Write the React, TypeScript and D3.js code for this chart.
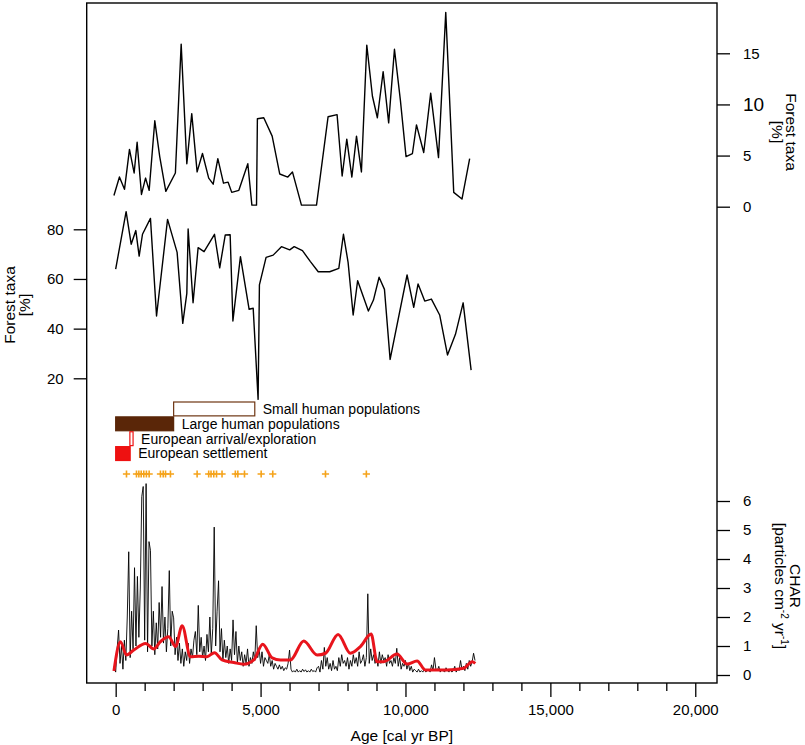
import React, { useEffect, useRef } from "react";
import * as d3 from "d3";

// upper forest taxa record (right axis, %)
const upperAge = [-60, 130, 304, 476, 637, 740, 890, 1030, 1155, 1350, 1520, 1730, 2060, 2260, 2455, 2625, 2810, 2995, 3210, 3365, 3525, 3720, 3880, 4005, 4250, 4560, 4700, 4860, 4890, 5110, 5400, 5660, 5940, 6100, 6410, 6930, 7330, 7640, 7815, 7975, 8150, 8310, 8480, 8665, 8860, 9030, 9230, 9420, 9620, 9825, 10020, 10240, 10380, 10630, 10870, 11140, 11390, 11665, 11950, 12215];
const upperPct = [1.1, 2.9, 1.7, 5.6, 3.3, 6.3, 1.2, 2.8, 1.6, 8.4, 4.9, 1.5, 3.3, 15.9, 4.2, 9.1, 3.4, 5.2, 2.8, 2.2, 4.7, 2.3, 2.4, 1.4, 1.6, 4.2, 0.15, 0.15, 8.6, 8.7, 6.9, 3.2, 2.9, 3.4, 0.15, 0.15, 8.8, 9.0, 3.0, 6.6, 2.9, 6.9, 3.4, 15.8, 10.8, 8.7, 13.2, 8.2, 15.4, 10.4, 4.9, 5.2, 8.0, 5.3, 11.1, 4.8, 19.0, 1.4, 0.75, 4.7];

// lower forest taxa record (left axis, %)
const lowerAge = [0, 360, 535, 695, 810, 925, 1200, 1410, 1790, 2120, 2315, 2455, 2500, 2670, 2845, 3050, 3410, 3590, 3780, 3950, 4045, 4305, 4605, 4745, 4915, 4960, 5190, 5435, 5720, 6005, 6160, 6445, 6720, 6990, 7385, 7700, 7860, 8020, 8195, 8350, 8720, 8895, 9090, 9275, 9470, 10055, 10285, 10435, 10665, 10895, 11180, 11450, 11725, 11990, 12265];
const lowerPct = [64.0, 87.1, 74, 79.5, 69.2, 78, 84.4, 45.1, 84, 70.7, 42.1, 54.2, 80.1, 50.4, 72.6, 71, 78, 64.5, 77.7, 77.8, 43.1, 69, 47.8, 48.2, 11.5, 57.6, 68.7, 69.6, 73, 71.7, 73, 71.4, 67, 62.9, 62.9, 64.3, 78, 66.7, 45.5, 59.3, 47.1, 51.5, 60.7, 55.8, 27.6, 61.6, 48.6, 58, 51.1, 51.9, 45.5, 29.4, 37.7, 50.4, 23.3];

// charcoal accumulation rate, resampled every 50 yr starting at -50 cal yr BP
const charStart = -50;
const charStep = 50;
const charValues = [
  0.3, 0.1, 0.9, 1.55, 0.4, 1.0, 0.2, 1.2, 0.5, 2.0, 4.25, 0.6, 2.2, 0.9, 3.7, 1.0, 3.4, 1.3, 3.0, 6.15, 6.5,
  1.2, 6.6, 0.8, 4.6, 4.3, 1.0, 2.2, 0.7, 1.8, 0.9, 2.5, 1.3, 3.05, 1.1, 2.0, 0.8, 1.6, 3.6, 1.0, 2.2,
  1.97, 0.7, 1.3, 0.5, 1.1, 0.4, 0.9, 0.3, 0.8, 0.5, 1.1, 0.4, 0.9, 0.6, 1.2, 1.5, 0.7, 2.4, 0.8, 1.3,
  0.6, 1.0, 0.5, 1.4, 0.8, 2.0, 0.7, 1.6, 5.1, 1.0, 2.2, 3.25, 0.8, 1.6, 0.5, 1.2, 0.6, 1.0, 0.4, 0.9,
  0.5, 1.9, 0.7, 1.5, 0.4, 1.0, 0.5, 0.8, 0.3, 0.7, 0.4, 0.9, 0.3, 0.6, 0.4, 0.8, 0.5, 1.7, 0.6, 0.9,
  0.4, 0.8, 0.3, 0.6, 0.5, 0.4, 0.7, 0.3, 0.5, 0.2, 0.4, 0.3, 0.2, 0.35, 0.2, 0.3, 0.15, 0.25, 0.2, 0.4,
  0.86, 0.2, 0.1, 0.15, 0.1, 0.2, 0.1, 0.15, 0.1, 0.2, 0.12, 0.18, 0.1, 0.15, 0.1, 0.2, 0.12, 0.15, 0.1, 0.25,
  0.3, 0.1, 0.5, 0.2, 0.95, 0.3, 0.6, 0.2, 0.4, 0.15, 0.5, 0.2, 0.3, 0.15, 0.6, 0.3, 0.7, 0.4, 0.5, 0.3,
  0.6, 0.2, 0.5, 0.3, 0.7, 0.4, 0.6, 0.3, 0.8, 0.4, 0.5, 0.7, 0.3, 0.6, 2.8, 0.4, 0.9, 0.5, 0.7, 0.4,
  0.6, 0.3, 0.8, 0.4, 0.7, 0.5, 0.6, 0.3, 0.7, 0.4, 0.5, 0.3, 0.6, 0.4, 0.92, 0.3, 0.6, 0.2, 0.4, 0.3,
  0.5, 0.2, 0.4, 0.15, 0.3, 0.1, 0.2, 0.15, 0.1, 0.2, 0.1, 0.15, 0.1, 0.2, 0.1, 0.15, 0.2, 0.1, 0.35, 0.15,
  0.6, 0.2, 0.15, 0.3, 0.1, 0.2, 0.15, 0.1, 0.25, 0.15, 0.1, 0.2, 0.1, 0.15, 0.3, 0.1, 0.2, 0.15, 0.5, 0.2,
  0.3, 0.15, 0.4, 0.2, 0.5, 0.3, 0.45, 0.75, 0.5
];

// smoothed background CHAR (red)
const bgAge = [-60, 165, 373, 625, 1030, 1315, 1545, 1830, 2065, 2295, 2580, 2870, 3150, 3410, 3670, 4075, 4420, 4765, 5075, 5400, 5685, 6030, 6490, 6950, 7240, 7675, 8100, 8445, 8815, 9020, 9250, 9710, 10055, 10400, 10690, 11435, 12010, 12300, 12410];
const bgValue = [0.14, 1.15, 0.69, 0.86, 1.09, 0.9, 1.15, 1.32, 0.98, 1.7, 0.63, 0.65, 0.63, 0.77, 0.52, 0.43, 0.37, 0.52, 1.06, 0.59, 0.52, 0.52, 1.17, 0.69, 0.75, 1.4, 0.75, 0.98, 1.41, 0.46, 0.46, 0.72, 0.38, 0.48, 0.17, 0.17, 0.23, 0.46, 0.4];

// radiocarbon dates
const dateAges = [373, 718, 800, 880, 970, 1060, 1155, 1545, 1640, 1720, 1890, 2810, 3210, 3290, 3385, 3480, 3670, 4130, 4215, 4445, 5020, 5420, 7240, 8650];

// human / settlement periods
const periodNames = ["Small human populations", "Large human populations", "European arrival/exploration", "European settlement"];
const periodStart = [2000, 0, 490, 0];
const periodEnd = [4800, 2000, 600, 500];
const periodFilled = [false, true, false, true];
const periodColor = ["#6e3512", "#5a2608", "#ee1111", "#ee1111"];

const xMajor = [0, 5000, 10000, 15000, 20000];
const xMinor = [1000, 2000, 3000, 4000, 6000, 7000, 8000, 9000, 11000, 12000, 13000, 14000, 16000, 17000, 18000, 19000];
const upperTicks = [0, 5, 10, 15];
const lowerTicks = [20, 40, 60, 80];
const charTicks = [0, 1, 2, 3, 4, 5, 6];

export default function App() {
  const ref = useRef<SVGSVGElement>(null);

  useEffect(() => {
    var svg = d3.select(ref.current);
    svg.selectAll("*").remove();
    var font = "'Liberation Sans', Arial, Helvetica, sans-serif";
    var box = { left: 86.7, right: 717, top: 3, bottom: 683 };

    var x = d3.scaleLinear().domain([-1000, 20750]).range([box.left, box.right]);
    var yUpper = d3.scaleLinear().domain([0, 15]).range([206.7, 53.3]);
    var yLower = d3.scaleLinear().domain([20, 80]).range([378.3, 229.3]);
    var yChar = d3.scaleLinear().domain([0, 6]).range([675, 501]);
    var rows = d3.scaleBand().domain(periodNames).range([401.5, 461]);

    svg.append("rect").attr("width", 805).attr("height", 745).attr("fill", "white");

    //axes helper: strip domain, style ticks and labels
    function style(g, size) {
      g.select(".domain").remove();
      g.selectAll("line").attr("stroke", "#000").attr("stroke-width", 1.3);
      g.selectAll("text").attr("fill", "#000").attr("font-size", size).attr("font-family", font);
      g.attr("font-family", font);
    }

    //x axis, major and minor ticks
    svg.append("g")
      .attr("transform", "translate(0," + box.bottom + ")")
      .call(d3.axisBottom(x).tickValues(xMajor).tickSize(14).tickPadding(7.5).tickFormat(d3.format(",")))
      .call(g => style(g, 15));
    svg.append("g")
      .attr("transform", "translate(0," + box.bottom + ")")
      .call(d3.axisBottom(x).tickValues(xMinor).tickSize(8).tickFormat(() => ""))
      .call(g => style(g, 15));

    //right axes
    svg.append("g")
      .attr("transform", "translate(" + box.right + ",0)")
      .call(d3.axisRight(yUpper).tickValues(upperTicks).tickSize(13).tickPadding(13).tickFormat(d3.format("d")))
      .call(g => style(g, 15))
      .call(g => g.selectAll("text").filter(d => d === 10).attr("font-size", 19));
    svg.append("g")
      .attr("transform", "translate(" + box.right + ",0)")
      .call(d3.axisRight(yChar).tickValues(charTicks).tickSize(13).tickPadding(13).tickFormat(d3.format("d")))
      .call(g => style(g, 15));

    //left axis
    svg.append("g")
      .attr("transform", "translate(" + box.left + ",0)")
      .call(d3.axisLeft(yLower).tickValues(lowerTicks).tickSize(13).tickPadding(10).tickFormat(d3.format("d")))
      .call(g => style(g, 15));

    //frame
    svg.append("rect")
      .attr("x", box.left).attr("y", box.top)
      .attr("width", box.right - box.left).attr("height", box.bottom - box.top)
      .attr("fill", "none").attr("stroke", "#000").attr("stroke-width", 1.4);

    //axis titles
    svg.append("text")
      .attr("x", (box.left + box.right) / 2).attr("y", 741)
      .attr("text-anchor", "middle").attr("font-family", font).attr("font-size", 15.5)
      .text("Age [cal yr BP]");

    var left = svg.append("g").attr("transform", "translate(0,305)rotate(-90)")
      .attr("font-family", font).attr("font-size", 15.5).attr("text-anchor", "middle");
    left.append("text").attr("x", 0).attr("y", 15).text("Forest taxa");
    left.append("text").attr("x", 0).attr("y", 29.5).text("[%]");

    var right = svg.append("g").attr("transform", "translate(0,132)rotate(90)")
      .attr("font-family", font).attr("font-size", 15.5).attr("text-anchor", "middle");
    right.append("text").attr("x", 0).attr("y", -786).text("Forest taxa");
    right.append("text").attr("x", 0).attr("y", -772).text("[%]");

    var charTitle = svg.append("g").attr("transform", "translate(0,586)rotate(90)")
      .attr("font-family", font).attr("font-size", 15.5).attr("text-anchor", "middle");
    charTitle.append("text").attr("x", 0).attr("y", -790).text("CHAR");
    var unit = charTitle.append("text").attr("x", 0).attr("y", -775);
    unit.append("tspan").text("[particles cm");
    unit.append("tspan").attr("font-size", 10).attr("dy", -6).text("-2");
    unit.append("tspan").attr("dy", 6).text(" yr");
    unit.append("tspan").attr("font-size", 10).attr("dy", -6).text("-1");
    unit.append("tspan").attr("dy", 6).text("]");

    //forest taxa lines
    var upperLine = d3.line<number>().x((d, i) => x(upperAge[i])).y(d => yUpper(d));
    svg.append("path").attr("d", upperLine(upperPct))
      .attr("fill", "none").attr("stroke", "#000").attr("stroke-width", 1.4).attr("stroke-linejoin", "round");

    var lowerLine = d3.line<number>().x((d, i) => x(lowerAge[i])).y(d => yLower(d));
    svg.append("path").attr("d", lowerLine(lowerPct))
      .attr("fill", "none").attr("stroke", "#000").attr("stroke-width", 1.4).attr("stroke-linejoin", "round");

    //period bars and labels
    periodNames.forEach((name, i) => {
      var y0 = rows(name);
      var h = rows.bandwidth();
      svg.append("rect")
        .attr("x", x(periodStart[i])).attr("y", y0 + 0.5)
        .attr("width", x(periodEnd[i]) - x(periodStart[i])).attr("height", h - 1)
        .attr("fill", periodFilled[i] ? periodColor[i] : "white")
        .attr("stroke", periodColor[i]).attr("stroke-width", 1.2);
      svg.append("text")
        .attr("x", x(periodEnd[i]) + 8).attr("y", y0 + h / 2)
        .attr("dy", "0.35em").attr("font-family", font).attr("font-size", 14)
        .text(name);
    });

    //radiocarbon dates
    svg.selectAll("path.date")
      .data(dateAges)
      .enter()
      .append("path")
      .classed("date", true)
      .attr("transform", d => "translate(" + x(d) + ",474)")
      .attr("d", "M-3.6,0H3.6M0,-3.6V3.6")
      .attr("stroke", "#f5a31a").attr("stroke-width", 1.6).attr("fill", "none");

    //charcoal series
    var charLine = d3.line<number>().x((d, i) => x(charStart + i * charStep)).y(d => yChar(d));
    svg.append("path").attr("d", charLine(charValues))
      .attr("fill", "none").attr("stroke", "#000").attr("stroke-width", 0.9);

    var bgLine = d3.line<number>().x((d, i) => x(bgAge[i])).y(d => yChar(d)).curve(d3.curveMonotoneX);
    svg.append("path").attr("d", bgLine(bgValue))
      .attr("fill", "none").attr("stroke", "#e8141c").attr("stroke-width", 3);
  }, []);

  return <svg ref={ref} width={805} height={745} style={{ position: "absolute", left: 0, top: 0, display: "block" }} />;
}
